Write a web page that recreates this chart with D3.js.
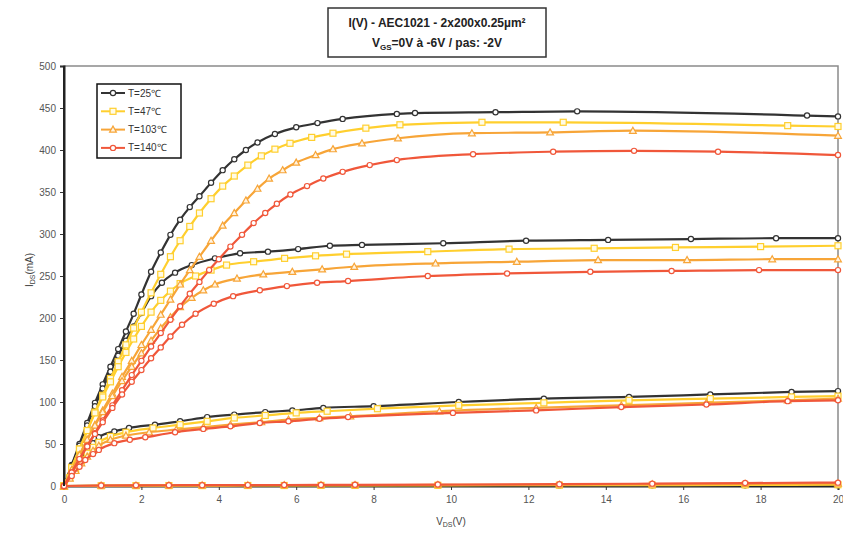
<!DOCTYPE html>
<html><head><meta charset="utf-8">
<script src="https://cdn.jsdelivr.net/npm/d3@7"></script>
<style>
body{margin:0;background:#fff;}
svg{display:block;font-family:Arial,"Liberation Sans",sans-serif;}
</style></head>
<body>
<svg id="c" width="843" height="535"></svg>
<script>
// ---------- DATA (Vds [V], Ids [mA]) ----------
const xTicks = [0,2,4,6,8,10,12,14,16,18,20];
const yTicks = [0,50,100,150,200,250,300,350,400,450,500];
const temperatures = ["T=25℃","T=47℃","T=103℃","T=140℃"];

// T = 25°C
const t25_vgs0 = [[0,0],[0.2,25],[0.4,50],[0.6,75],[0.8,99],[1.0,121],[1.2,142],[1.4,163],[1.6,184],[1.8,205],[2.0,228],[2.25,255],[2.5,278],[2.75,299],[3.0,317],[3.25,332],[3.5,345],[3.8,361],[4.1,376],[4.4,389],[4.7,400],[5.0,409],[5.45,419],[6.0,427],[6.55,432],[7.2,437],[8.6,443],[9.07,444],[11.15,445],[13.26,446],[19.2,441],[20,440]];
const t25_vgs2 = [[0,0],[0.2,24],[0.4,48],[0.6,72],[0.8,95],[1.0,116],[1.2,136],[1.4,155],[1.6,173],[1.8,190],[2.0,206],[2.25,226],[2.53,242],[2.87,254],[3.3,263],[3.9,271],[4.55,277],[5.27,279],[6.05,282],[6.87,286],[7.7,287],[9.8,289],[11.94,292],[14.06,293],[16.2,294],[18.4,295],[20,295]];
const t25_vgs4 = [[0,0],[0.15,11],[0.3,22],[0.45,33],[0.6,43],[0.75,51],[0.9,58],[1.3,65],[1.68,69],[2.35,73],[3.0,77],[3.7,82],[4.4,85],[5.2,88],[5.9,90],[6.7,93],[8.0,95],[10.2,100],[12.4,104],[14.6,106],[16.7,109],[18.8,112],[20,113]];
const t25_vgs6 = [[0,0],[0.96,0.2],[1.86,0.3],[2.71,0.3],[3.57,0.4],[4.75,0.4],[5.69,0.5],[6.64,0.5],[7.52,0.5],[9.66,0.6],[12.8,0.7],[15.2,0.8],[17.6,0.9],[20,1]];

// T = 47°C
const t47_vgs0 = [[0,0],[0.2,22],[0.4,44],[0.6,66],[0.8,88],[1.0,108],[1.2,128],[1.4,148],[1.6,168],[1.8,188],[2.0,207],[2.25,230],[2.5,252],[2.75,273],[3.0,292],[3.25,309],[3.5,325],[3.8,342],[4.1,357],[4.4,369],[4.75,382],[5.1,393],[5.45,401],[5.84,408],[6.4,415],[6.95,420],[7.8,426],[8.68,430],[10.8,433],[12.9,433],[18.7,429],[20,428]];
const t47_vgs2 = [[0,0],[0.2,22],[0.4,44],[0.6,66],[0.8,87],[1.0,106],[1.2,124],[1.4,142],[1.6,159],[1.8,175],[2.0,190],[2.25,207],[2.5,221],[2.75,232],[3.0,241],[3.4,250],[3.8,257],[4.2,263],[4.9,267],[5.7,271],[6.5,274],[7.3,276],[9.4,279],[11.5,282],[13.7,283],[15.8,284],[18.0,285],[20,286]];
const t47_vgs4 = [[0,0],[0.15,10],[0.3,20],[0.45,30],[0.6,39],[0.75,46],[0.9,52],[1.2,59],[1.6,64],[2.3,69],[3.0,73],[3.7,77],[4.4,81],[5.2,84],[6.0,87],[6.8,89],[8.1,92],[10.2,96],[12.4,99],[14.6,102],[16.7,104],[18.8,106],[20,107]];
const t47_vgs6 = [[0,0],[0.96,0.3],[1.86,0.4],[2.71,0.5],[3.57,0.5],[4.75,0.6],[5.69,0.6],[6.64,0.7],[7.52,0.7],[9.66,0.8],[12.8,1.0],[15.2,1.1],[17.6,1.3],[20,1.5]];

// T = 103°C
const t103_vgs0 = [[0,0],[0.2,19],[0.4,37],[0.6,55],[0.8,73],[1.0,90],[1.25,110],[1.5,130],[1.75,149],[2.0,168],[2.25,186],[2.5,204],[2.75,222],[3.0,240],[3.25,257],[3.5,273],[3.8,292],[4.1,310],[4.4,325],[4.7,340],[5.0,354],[5.3,366],[5.65,376],[6.0,385],[6.5,394],[6.95,401],[7.7,408],[8.63,414],[10.54,420],[12.56,421],[14.7,423],[20,417]];
const t103_vgs2 = [[0,0],[0.2,19],[0.4,37],[0.6,55],[0.8,72],[1.0,88],[1.25,107],[1.5,125],[1.75,142],[2.0,158],[2.25,173],[2.5,188],[2.75,201],[3.0,213],[3.3,224],[3.6,233],[3.9,240],[4.47,247],[5.15,252],[5.9,255],[6.67,258],[7.5,261],[9.6,265],[11.7,267],[13.8,269],[16.1,269],[18.3,270],[20,270]];
const t103_vgs4 = [[0,0],[0.15,9],[0.3,18],[0.45,27],[0.6,35],[0.75,42],[0.9,48],[1.2,55],[1.6,60],[2.2,64],[2.9,67],[3.6,70],[4.3,73],[5.1,76],[5.8,79],[6.6,81],[7.4,83],[9.7,89],[12.2,93],[14.4,96],[16.6,99],[18.7,102],[20,104]];
const t103_vgs6 = [[0,0],[0.96,0.5],[1.86,0.6],[2.71,0.7],[3.57,0.8],[4.75,0.9],[5.69,1.0],[6.64,1.0],[7.52,1.1],[9.66,1.3],[12.8,1.6],[15.2,2.0],[17.6,2.5],[20,3]];

// T = 140°C
const t140_vgs0 = [[0,0],[0.2,16],[0.4,32],[0.6,48],[0.8,63],[1.0,78],[1.25,96],[1.5,114],[1.75,132],[2.0,149],[2.25,166],[2.5,182],[2.75,198],[3.0,214],[3.25,229],[3.5,243],[3.75,257],[4.0,270],[4.3,285],[4.6,299],[4.9,313],[5.2,325],[5.5,336],[5.85,347],[6.28,357],[6.7,366],[7.2,374],[7.9,382],[8.6,388],[10.57,395],[12.64,398],[14.73,399],[16.9,398],[20,394]];
const t140_vgs2 = [[0,0],[0.2,16],[0.4,32],[0.6,47],[0.8,62],[1.0,76],[1.25,93],[1.5,109],[1.75,124],[2.0,138],[2.25,152],[2.5,165],[2.75,178],[3.05,192],[3.4,205],[3.87,217],[4.37,226],[5.06,233],[5.76,238],[6.54,242],[7.34,244],[9.4,250],[11.45,253],[13.6,255],[15.7,256],[17.96,257],[20,257]];
const t140_vgs4 = [[0,0],[0.2,12],[0.4,23],[0.55,31],[0.75,38],[0.9,43],[1.3,51],[1.7,55],[2.1,58],[2.87,64],[3.6,68],[4.3,71],[5.06,75],[5.8,77],[6.6,80],[7.34,82],[10.05,87],[12.2,90],[14.4,94],[16.6,97],[18.7,101],[20,102]];
const t140_vgs6 = [[0,0],[0.96,0.6],[1.86,0.8],[2.71,0.9],[3.57,1.0],[4.75,1.1],[5.69,1.2],[6.64,1.3],[7.52,1.4],[9.66,1.7],[12.8,2.2],[15.2,2.8],[17.6,3.5],[20,4]];

const seriesCurves = [
  [t25_vgs0,t25_vgs2,t25_vgs4,t25_vgs6],
  [t47_vgs0,t47_vgs2,t47_vgs4,t47_vgs6],
  [t103_vgs0,t103_vgs2,t103_vgs4,t103_vgs6],
  [t140_vgs0,t140_vgs2,t140_vgs4,t140_vgs6]
];
const lineColors = ["#333333","#ffcf2e","#f7a538","#f0573a"];
const markerShapes = ["circle","square","triangle","circle"];

// ---------- LAYOUT ----------
const svg = d3.select("#c");
const x = d3.scaleLinear().domain([0,20]).range([64,838]);
const y = d3.scaleLinear().domain([0,500]).range([486,66]);

// plot frame (top & right)
svg.append("rect").attr("x",64).attr("y",66).attr("width",774).attr("height",420)
  .attr("fill","#fff").attr("stroke","#8a8a8a").attr("stroke-width",1.5);

// axes
const yAxis = svg.append("g").attr("transform","translate(64,0)")
  .call(d3.axisLeft(y).tickValues(yTicks).tickSize(4).tickPadding(4));
const xAxis = svg.append("g").attr("transform","translate(0,486)")
  .call(d3.axisBottom(x).tickValues(xTicks).tickSize(4).tickPadding(6));
[yAxis,xAxis].forEach(g=>{
  g.select(".domain").attr("stroke","#222").attr("stroke-width",2);
  g.selectAll(".tick line").attr("stroke","#333");
  g.selectAll(".tick text").attr("fill","#555").attr("font-size",10)
    .attr("font-family","Arial, 'Liberation Sans', sans-serif");
});

// markers
function drawMarker(g, shape, cx, cy, color){
  if(shape==="circle"){
    g.append("circle").attr("cx",cx).attr("cy",cy).attr("r",2.6)
      .attr("fill","#fff").attr("stroke",color).attr("stroke-width",1.2);
  } else if(shape==="square"){
    g.append("rect").attr("x",cx-3).attr("y",cy-3).attr("width",6).attr("height",6)
      .attr("fill","#fffbe6").attr("stroke",color).attr("stroke-width",1.2);
  } else {
    g.append("path").attr("d",`M${cx},${cy-3.5}L${cx+3.4},${cy+2.6}L${cx-3.4},${cy+2.6}Z`)
      .attr("fill","#fff3e0").attr("stroke",color).attr("stroke-width",1.2);
  }
}

const line = d3.line().x(d=>x(d[0])).y(d=>y(d[1])).curve(d3.curveMonotoneX);
const plot = svg.append("g");
seriesCurves.forEach((curves,i)=>{
  const g = plot.append("g");
  curves.forEach(c=>{
    g.append("path").attr("d",line(c)).attr("fill","none")
      .attr("stroke",lineColors[i]).attr("stroke-width",2.2);
  });
  curves.forEach(c=>c.forEach(d=>drawMarker(g, markerShapes[i], x(d[0]), y(d[1]), lineColors[i])));
});
// redraw y axis domain on top
svg.append("line").attr("x1",64).attr("x2",64).attr("y1",66).attr("y2",486)
  .attr("stroke","#222").attr("stroke-width",2);

// axis titles
const xt = svg.append("text").attr("x",451).attr("y",525).attr("text-anchor","middle")
  .attr("font-size",10).attr("fill","#444");
xt.append("tspan").text("V");
xt.append("tspan").attr("font-size",7).attr("dy",2).text("DS");
xt.append("tspan").attr("dy",-2).text("(V)");

const yt = svg.append("text").attr("transform","translate(33,270) rotate(-90)")
  .attr("text-anchor","middle").attr("font-size",10).attr("fill","#444");
yt.append("tspan").text("I");
yt.append("tspan").attr("font-size",7).attr("dy",2).text("DS");
yt.append("tspan").attr("dy",-2).text("(mA)");

// title box
svg.append("rect").attr("x",328).attr("y",8).attr("width",218).attr("height",49)
  .attr("fill","#fff").attr("stroke","#333").attr("stroke-width",1.5);
svg.append("text").attr("x",437).attr("y",27).attr("text-anchor","middle")
  .attr("font-size",12).attr("font-weight","bold").attr("fill","#222")
  .text("I(V) - AEC1021 - 2x200x0.25µm²");
const t2 = svg.append("text").attr("x",437).attr("y",47).attr("text-anchor","middle")
  .attr("font-size",12).attr("font-weight","bold").attr("fill","#222");
t2.append("tspan").text("V");
t2.append("tspan").attr("font-size",8).attr("dy",3).text("GS");
t2.append("tspan").attr("dy",-3).text("=0V à -6V / pas: -2V");

// legend
const lg = svg.append("g");
lg.append("rect").attr("x",97).attr("y",84).attr("width",84).attr("height",74)
  .attr("fill","#fff").attr("stroke","#111").attr("stroke-width",1.5);
temperatures.forEach((t,i)=>{
  const yy = 93 + i*18.3;
  lg.append("line").attr("x1",101).attr("x2",125).attr("y1",yy).attr("y2",yy)
    .attr("stroke",lineColors[i]).attr("stroke-width",2);
  drawMarker(lg, markerShapes[i], 113, yy, lineColors[i]);
  lg.append("text").attr("x",128).attr("y",yy+3.5).attr("font-size",10)
    .attr("fill","#333").text(t);
});
</script>
</body></html>
